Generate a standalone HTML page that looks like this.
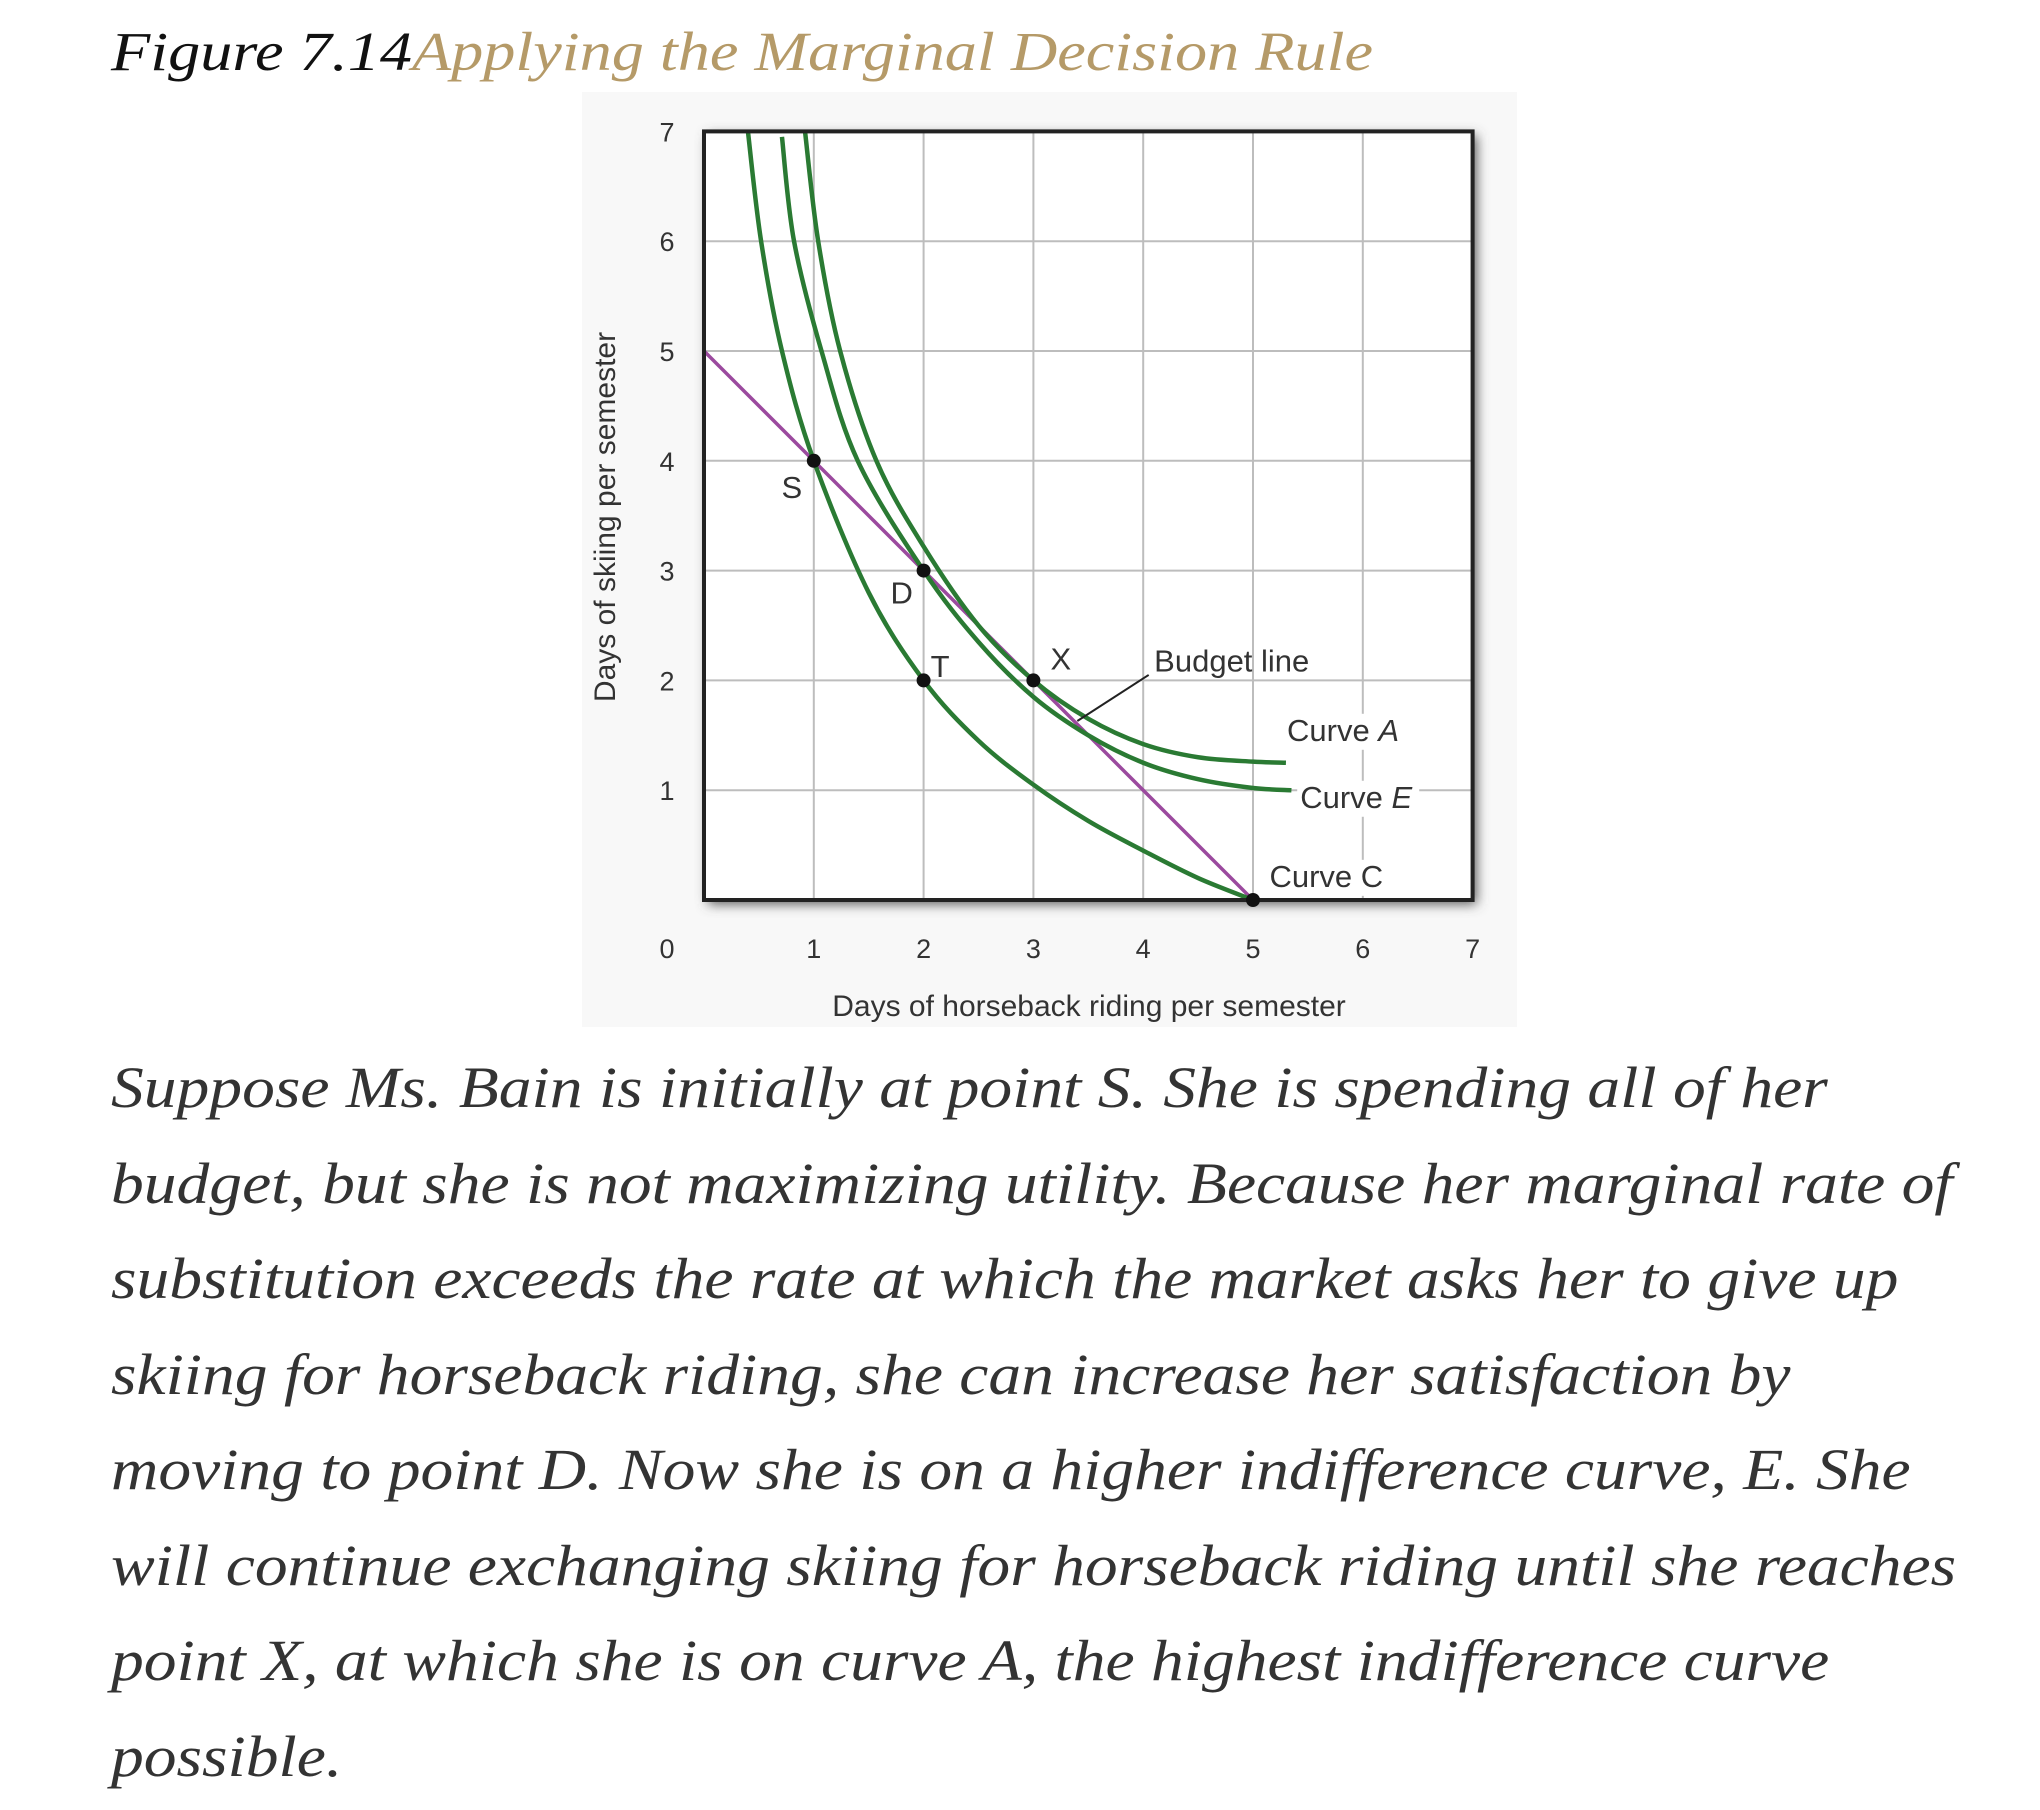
<!DOCTYPE html>
<html><head><meta charset="utf-8">
<style>
html,body{margin:0;padding:0;background:#fff;}
body{width:2040px;height:1810px;position:relative;overflow:hidden;}
.title{position:absolute;left:111px;top:20px;font-family:"Liberation Serif",serif;font-style:italic;font-size:55px;white-space:nowrap;transform-origin:0 0;transform:scaleX(1.168);}
.title .num{color:#111;}
.title .name{color:#b59a68;}
.body{position:absolute;left:111px;top:1040px;font-family:"Liberation Serif",serif;font-style:italic;font-size:58px;line-height:95.5px;color:#333;white-space:nowrap;transform-origin:0 0;transform:scaleX(1.13);}
svg{position:absolute;left:0;top:0;}
</style></head><body>
<div class="title"><span class="num">Figure 7.14</span><span class="name">Applying the Marginal Decision Rule</span></div>
<svg id="chart" width="2040" height="1810">
<defs><filter id="sh" x="-5%" y="-5%" width="110%" height="110%"><feGaussianBlur stdDeviation="6"/></filter></defs>
</svg>
<div class="body">
<div>Suppose Ms. Bain is initially at point S. She is spending all of her</div>
<div>budget, but she is not maximizing utility. Because her marginal rate of</div>
<div>substitution exceeds the rate at which the market asks her to give up</div>
<div>skiing for horseback riding, she can increase her satisfaction by</div>
<div>moving to point D. Now she is on a higher indifference curve, E. She</div>
<div>will continue exchanging skiing for horseback riding until she reaches</div>
<div>point X, at which she is on curve A, the highest indifference curve</div>
<div>possible.</div>
</div>
<script>
const xTicks=[0,1,2,3,4,5,6,7];
const yTicks=[1,2,3,4,5,6,7];
const curveCx=[0.4,0.52,0.71,1,1.5,2,2.5,3,3.5,4,4.5,5];
const curveCy=[7,6,5,4,2.8,2,1.45,1.05,0.72,0.45,0.2,0];
const curveEx=[0.71,0.82,1.07,1.4,2,2.5,3,3.5,4,4.5,5,5.35];
const curveEy=[6.95,6,5,4,3.0,2.35,1.85,1.5,1.25,1.1,1.02,1.0];
const curveAx=[0.92,1.04,1.24,1.57,2,2.5,3,3.5,4,4.5,5,5.3];
const curveAy=[7,6,5,4,3.22,2.5,2.0,1.65,1.42,1.3,1.26,1.25];
const budgetX=[0,5];
const budgetY=[5,0];
const pointNames=['S','D','T','X','Z'];
const pointX=[1,2,2,3,5];
const pointY=[4,3,2,2,0];

const X0=704,Y0=900,U=109.8;
const sx=v=>X0+v*U, sy=v=>Y0-v*U;
const svg=document.getElementById('chart');
const NS='http://www.w3.org/2000/svg';
function mk(tag,attrs,parent){const e=document.createElementNS(NS,tag);for(const k in attrs)e.setAttribute(k,attrs[k]);(parent||svg).appendChild(e);return e;}

let bg=mk('rect',{x:582,y:92,width:935,height:935,fill:'#f8f8f8'});


let shd=mk('rect',{x:sx(0)+4,y:sy(7)+4,width:7*U,height:7*U,fill:'#555',filter:'url(#sh)'});


let pa=mk('rect',{x:sx(0),y:sy(7),width:7*U,height:7*U,fill:'#fff'});



xTicks.forEach(t=>{if(t>0&&t<7){let l=mk('line',{x1:sx(t),x2:sx(t),y1:sy(0),y2:sy(7),stroke:'#bdbdbd','stroke-width':2});

}});
yTicks.forEach(t=>{if(t<7){let l=mk('line',{x1:sx(0),x2:sx(7),y1:sy(t),y2:sy(t),stroke:'#bdbdbd','stroke-width':2});

}});

xTicks.forEach(t=>{let tx=mk('text',{x:t===0?667:sx(t),y:958,'text-anchor':'middle','font-family':'Liberation Sans, sans-serif','font-size':27,fill:'#333'});tx.textContent=t;

});
yTicks.forEach(t=>{let tx=mk('text',{x:667,y:sy(t)+10,'text-anchor':'middle','font-family':'Liberation Sans, sans-serif','font-size':27,fill:'#333'});tx.textContent=t;

});

let xt=mk('text',{x:1089,y:1016,'text-anchor':'middle','font-family':'Liberation Sans, sans-serif','font-size':30,fill:'#333'});xt.textContent='Days of horseback riding per semester';


let yt=mk('text',{x:0,y:0,'text-anchor':'middle','font-family':'Liberation Sans, sans-serif','font-size':30,fill:'#333',transform:'translate(615,517) rotate(-90)'});yt.textContent='Days of skiing per semester';



function spline(xs,ys){const p=xs.map((x,i)=>[sx(x),sy(ys[i])]);let d='M'+p[0][0]+','+p[0][1];
for(let i=0;i<p.length-1;i++){const p0=p[i-1]||p[i],p1=p[i],p2=p[i+1],p3=p[i+2]||p2;
const c1=[p1[0]+(p2[0]-p0[0])/6,p1[1]+(p2[1]-p0[1])/6],c2=[p2[0]-(p3[0]-p1[0])/6,p2[1]-(p3[1]-p1[1])/6];
d+=` C${c1[0]},${c1[1]} ${c2[0]},${c2[1]} ${p2[0]},${p2[1]}`;}return d;}

let bl=mk('line',{x1:sx(budgetX[0]),y1:sy(budgetY[0]),x2:sx(budgetX[1]),y2:sy(budgetY[1]),stroke:'#9b4a9e','stroke-width':3.5});



[[curveCx,curveCy,'curve-c'],[curveEx,curveEy,'curve-e'],[curveAx,curveAy,'curve-a']].forEach(c=>{
let p=mk('path',{d:spline(c[0],c[1]),fill:'none',stroke:'#2a7a33','stroke-width':4.5});

});

let ld=mk('line',{x1:sx(3.4),y1:sy(1.63),x2:sx(4.05),y2:sy(2.05),stroke:'#222','stroke-width':2});



let bd=mk('rect',{x:sx(0),y:sy(7),width:7*U,height:7*U,fill:'none',stroke:'#222','stroke-width':4});



pointX.forEach((x,i)=>{let c=mk('circle',{cx:sx(x),cy:sy(pointY[i]),r:7,fill:'#111'});

});

const labels=[['S',0.8,3.66,'label-s'],['D',1.8,2.7,'label-d'],['T',2.15,2.03,'label-t'],['X',3.25,2.1,'label-x'],['Budget line',4.1,2.08,'label-budget-line']];
labels.forEach(l=>{let t=mk('text',{x:sx(l[1]),y:sy(l[2]),'font-family':'Liberation Sans, sans-serif','font-size':31,fill:'#333','text-anchor':l[0].length==1?'middle':'start'});t.textContent=l[0];

});

const curveLabels=[['A',5.31,1.45,'label-curve-a',122],['E',5.43,0.84,'label-curve-e',122],['C',5.15,0.12,'label-curve-c',126]];
curveLabels.forEach(l=>{
let r=mk('rect',{x:sx(l[1])-3,y:sy(l[2])-27,width:l[4],height:36,fill:'#fff'});


let t=mk('text',{x:sx(l[1]),y:sy(l[2]),'font-family':'Liberation Sans, sans-serif','font-size':31,fill:'#333'});


t.appendChild(document.createTextNode('Curve '));
let ts=mk('tspan',{'font-style':l[0]==='C'?'normal':'italic'},t);ts.textContent=l[0];});
</script>
</body></html>
